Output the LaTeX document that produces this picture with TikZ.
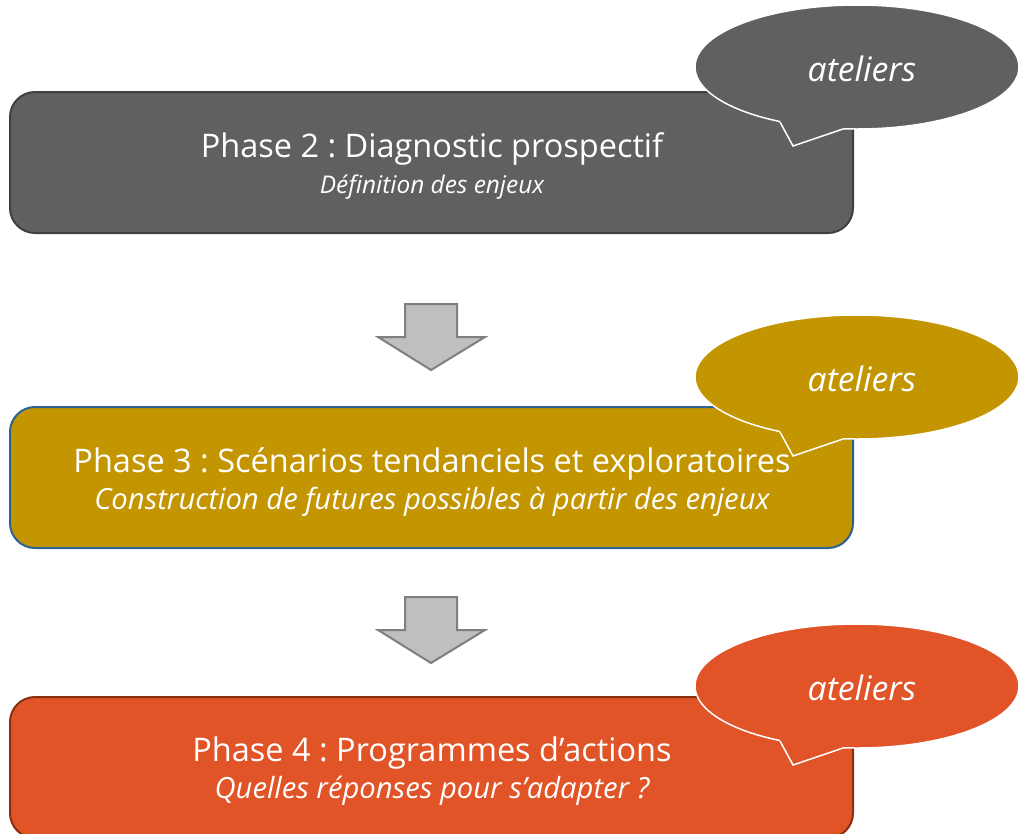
\documentclass[tikz,border=0pt]{standalone}
\usepackage{fontspec}
\setmainfont{Open Sans}
\usetikzlibrary{shapes.geometric}
\definecolor{grayA}{HTML}{606060}
\definecolor{grayB}{HTML}{404040}
\definecolor{goldA}{HTML}{C39500}
\definecolor{goldB}{HTML}{2E6290}
\definecolor{redA}{HTML}{E05427}
\definecolor{redB}{HTML}{8A2F12}
\definecolor{arrA}{HTML}{BFBFBF}
\definecolor{arrB}{HTML}{7F7F7F}
\tikzset{
  phasebox/.style={rectangle, rounded corners=25pt, line width=2pt, minimum width=843pt, inner sep=0pt},
  ttl/.style={text=white, font=\fontsize{32.5}{36}\selectfont, inner sep=0pt},
  sub/.style={text=white, font=\fontsize{29.2}{32}\selectfont\itshape, inner sep=0pt},
  subsmall/.style={text=white, font=\fontsize{24.4}{28}\selectfont\itshape, inner sep=0pt},
  bubble/.style={ellipse, draw=white, line width=1.5pt, minimum width=324pt, minimum height=124pt, inner sep=0pt},
  bubbletext/.style={text=white, font=\fontsize{33.7}{38}\selectfont\itshape, inner sep=0pt},
  tailline/.style={draw=white, line width=1.5pt, line join=miter},
  blockarrow/.style={fill=arrA, draw=arrB, line width=2pt, line join=miter},
}
\frenchspacing
\begin{document}
\begin{tikzpicture}[x=1pt,y=-1pt]
\useasboundingbox (0,0) rectangle (1019,833);
\fill[white] (0,0) rectangle (1019,833);
% boxes
\node[phasebox, fill=grayA, draw=grayB, minimum height=141pt] (b1) at (431.5,162.5) {};
\node[phasebox, fill=goldA, draw=goldB, minimum height=141pt] (b2) at (431.5,477.5) {};
\node[phasebox, fill=redA, draw=redB, minimum height=141pt] (b3) at (431.5,767.5) {};
% texts
\node[ttl] (t1) at (432,149) {Phase 2 : Diagnostic prospectif};
\node[subsmall] (s1) at (432,187) {Définition des enjeux};
\node[ttl] (t2) at (432,464) {Phase 3 : Scénarios tendanciels et exploratoires};
\node[sub] (s2) at (432,502) {Construction de futures possibles à partir des enjeux};
\node[ttl] (t3) at (432,753) {Phase 4 : Programmes d’actions};
\node[sub] (s3) at (432,791) {Quelles réponses pour s’adapter ?};
% block arrows
\draw[blockarrow] (405,304) -- (457,304) -- (457,337) -- (485,337) -- (431,370) -- (378,337) -- (405,337) -- cycle;
\draw[blockarrow] (405,597) -- (457,597) -- (457,630) -- (485,630) -- (431,663) -- (378,630) -- (405,630) -- cycle;
% callouts
\foreach \cy/\col/\nm in {67/grayA/c1, 377/goldA/c2, 686/redA/c3}{
  \node[bubble, fill=\col] (\nm) at (857,\cy) {};
  \fill[\col] (780,\cy+55) -- (793,\cy+79) -- (843,\cy+62) -- (843,\cy+48) -- (780,\cy+44) -- cycle;
  \draw[tailline] (780,\cy+55) -- (793,\cy+79) -- (843,\cy+62);
  \node[bubbletext] at ([xshift=5pt,yshift=-2pt]\nm.center) {ateliers};
}
\end{tikzpicture}
\end{document}
